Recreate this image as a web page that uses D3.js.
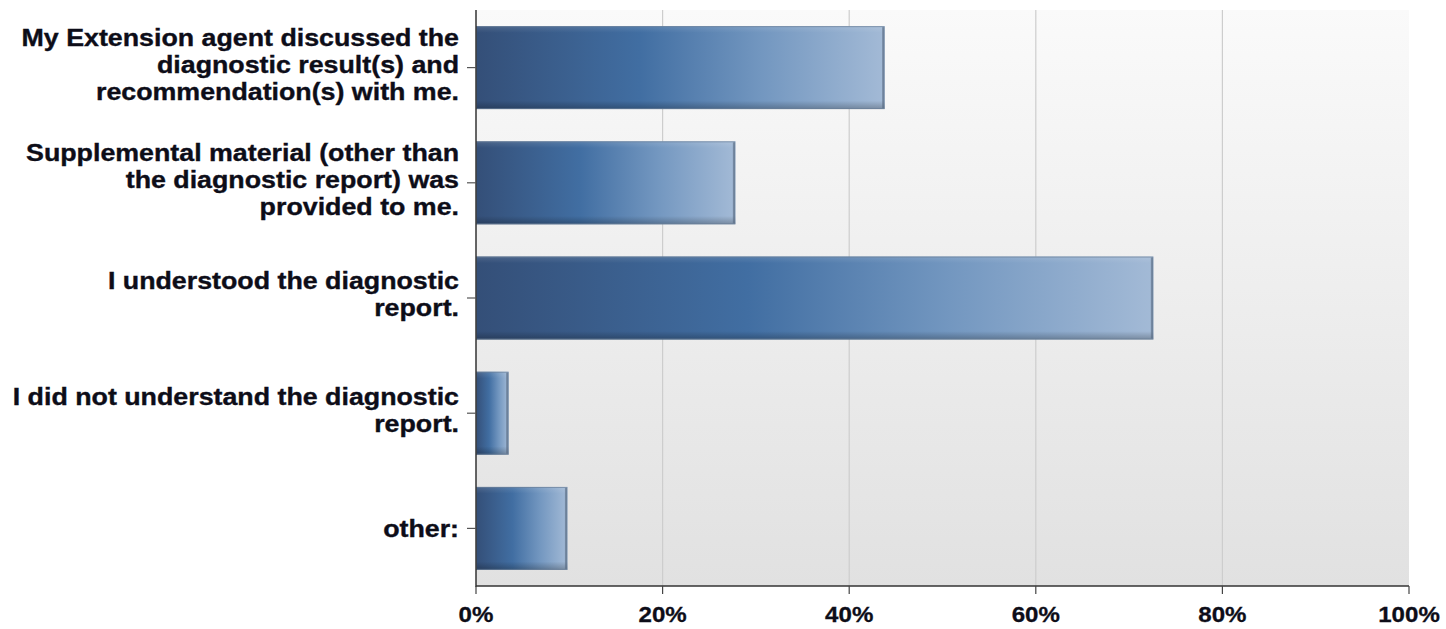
<!DOCTYPE html>
<html><head><meta charset="utf-8">
<script src="https://cdn.jsdelivr.net/npm/d3@7"></script>
<style>html,body{margin:0;padding:0;background:#fff;}svg{display:block;font-family:"Liberation Sans",Arial,sans-serif;}</style>
</head><body>
<svg id="chart" width="1446" height="629"></svg>
<script>
const categories = [
  ["My Extension agent discussed the", "diagnostic result(s) and", "recommendation(s) with me."],
  ["Supplemental material (other than", "the diagnostic report) was", "provided to me."],
  ["I understood the diagnostic", "report."],
  ["I did not understand the diagnostic", "report."],
  ["other:"]
];
const values = [43.8, 27.8, 72.6, 3.5, 9.8];
const tickValues = [0, 20, 40, 60, 80, 100];

const svg = d3.select("#chart");
const L = 476, R = 1409, T = 10, B = 586;
const x = d3.scaleLinear().domain([0, 100]).range([L, R]);
const y = d3.scaleBand().domain(d3.range(categories.length)).range([T, B]).paddingInner(0.28).paddingOuter(0.14);

const defs = svg.append("defs");
const bg = defs.append("linearGradient").attr("id","bg").attr("x1",0).attr("y1",0).attr("x2",0).attr("y2",1);
bg.append("stop").attr("offset","0%").attr("stop-color","#fafafa");
bg.append("stop").attr("offset","100%").attr("stop-color","#e1e1e1");

const bar = defs.append("linearGradient").attr("id","bar").attr("x1",0).attr("y1",0).attr("x2",1).attr("y2",0);
bar.append("stop").attr("offset","0%").attr("stop-color","#344f78");
bar.append("stop").attr("offset","40%").attr("stop-color","#416ea2");
bar.append("stop").attr("offset","70%").attr("stop-color","#7397c0");
bar.append("stop").attr("offset","100%").attr("stop-color","#a3bad6");

const shade = defs.append("linearGradient").attr("id","shade").attr("x1",0).attr("y1",0).attr("x2",0).attr("y2",1);
shade.append("stop").attr("offset","0%").attr("stop-color","#fff").attr("stop-opacity",0.12);
shade.append("stop").attr("offset","8%").attr("stop-color","#fff").attr("stop-opacity",0);
shade.append("stop").attr("offset","90%").attr("stop-color","#000").attr("stop-opacity",0);
shade.append("stop").attr("offset","100%").attr("stop-color","#000").attr("stop-opacity",0.25);

svg.append("rect").attr("x",L).attr("y",T).attr("width",R-L).attr("height",B-T).attr("fill","url(#bg)");

// grid
svg.append("g").selectAll("line").data(tickValues.slice(1,-1)).join("line")
  .attr("x1",d=>x(d)).attr("x2",d=>x(d)).attr("y1",T).attr("y2",B)
  .attr("stroke","#cdcdcd").attr("stroke-width",1.2);

// bars
const g = svg.append("g");
values.forEach((v,i)=>{
  const bx = x(0), by = y(i), bw = x(v)-x(0), bh = y.bandwidth();
  g.append("rect").attr("x",bx).attr("y",by).attr("width",bw).attr("height",bh).attr("fill","url(#bar)");
  g.append("rect").attr("x",bx).attr("y",by).attr("width",bw).attr("height",bh).attr("fill","url(#shade)");
  g.append("rect").attr("x",bx+0.5).attr("y",by+0.5).attr("width",bw-1).attr("height",bh-1)
    .attr("fill","none").attr("stroke","#6a7f99").attr("stroke-opacity",0.7);
  g.append("line").attr("x1",bx+bw-1.5).attr("x2",bx+bw-1.5).attr("y1",by+1).attr("y2",by+bh-1)
    .attr("stroke","#55677f").attr("stroke-width",2).attr("stroke-opacity",0.6);
});

// left axis
svg.append("line").attr("x1",L).attr("x2",L).attr("y1",T).attr("y2",B+1).attr("stroke","#333").attr("stroke-width",1.5);
// bottom axis
svg.append("line").attr("x1",L).attr("x2",R).attr("y1",B).attr("y2",B).attr("stroke","#333").attr("stroke-width",1.5);

const yl = svg.append("g");
categories.forEach((lines,i)=>{
  const cy = y(i)+y.bandwidth()/2;
  yl.append("line").attr("x1",L-9).attr("x2",L).attr("y1",cy).attr("y2",cy).attr("stroke","#555").attr("stroke-width",1.2);
  const lh = 27;
  const off = lines.length === 1 ? 9 : 5;
  const t = yl.append("text").attr("text-anchor","end").attr("font-weight","bold").attr("font-size","23px")
    .attr("fill","#0d0d18").attr("stroke","#0d0d18").attr("stroke-width",0.35)
    .attr("transform", `translate(${L-17},0) scale(1.165,1)`);
  lines.forEach((ln,j)=>{
    t.append("tspan").attr("x",0).attr("y",cy + (j-(lines.length-1)/2)*lh + off).text(ln);
  });
});

const xl = svg.append("g");
tickValues.forEach(d=>{
  xl.append("line").attr("x1",x(d)).attr("x2",x(d)).attr("y1",B).attr("y2",B+8).attr("stroke","#444").attr("stroke-width",1.2);
  xl.append("text").attr("transform",`translate(${x(d)},622) scale(1.12,1)`).attr("text-anchor","middle").attr("font-weight","bold")
    .attr("font-size","21.5px").attr("fill","#0d0d18").attr("stroke","#0d0d18").attr("stroke-width",0.3).text(d+"%");
});
</script>
</body></html>
